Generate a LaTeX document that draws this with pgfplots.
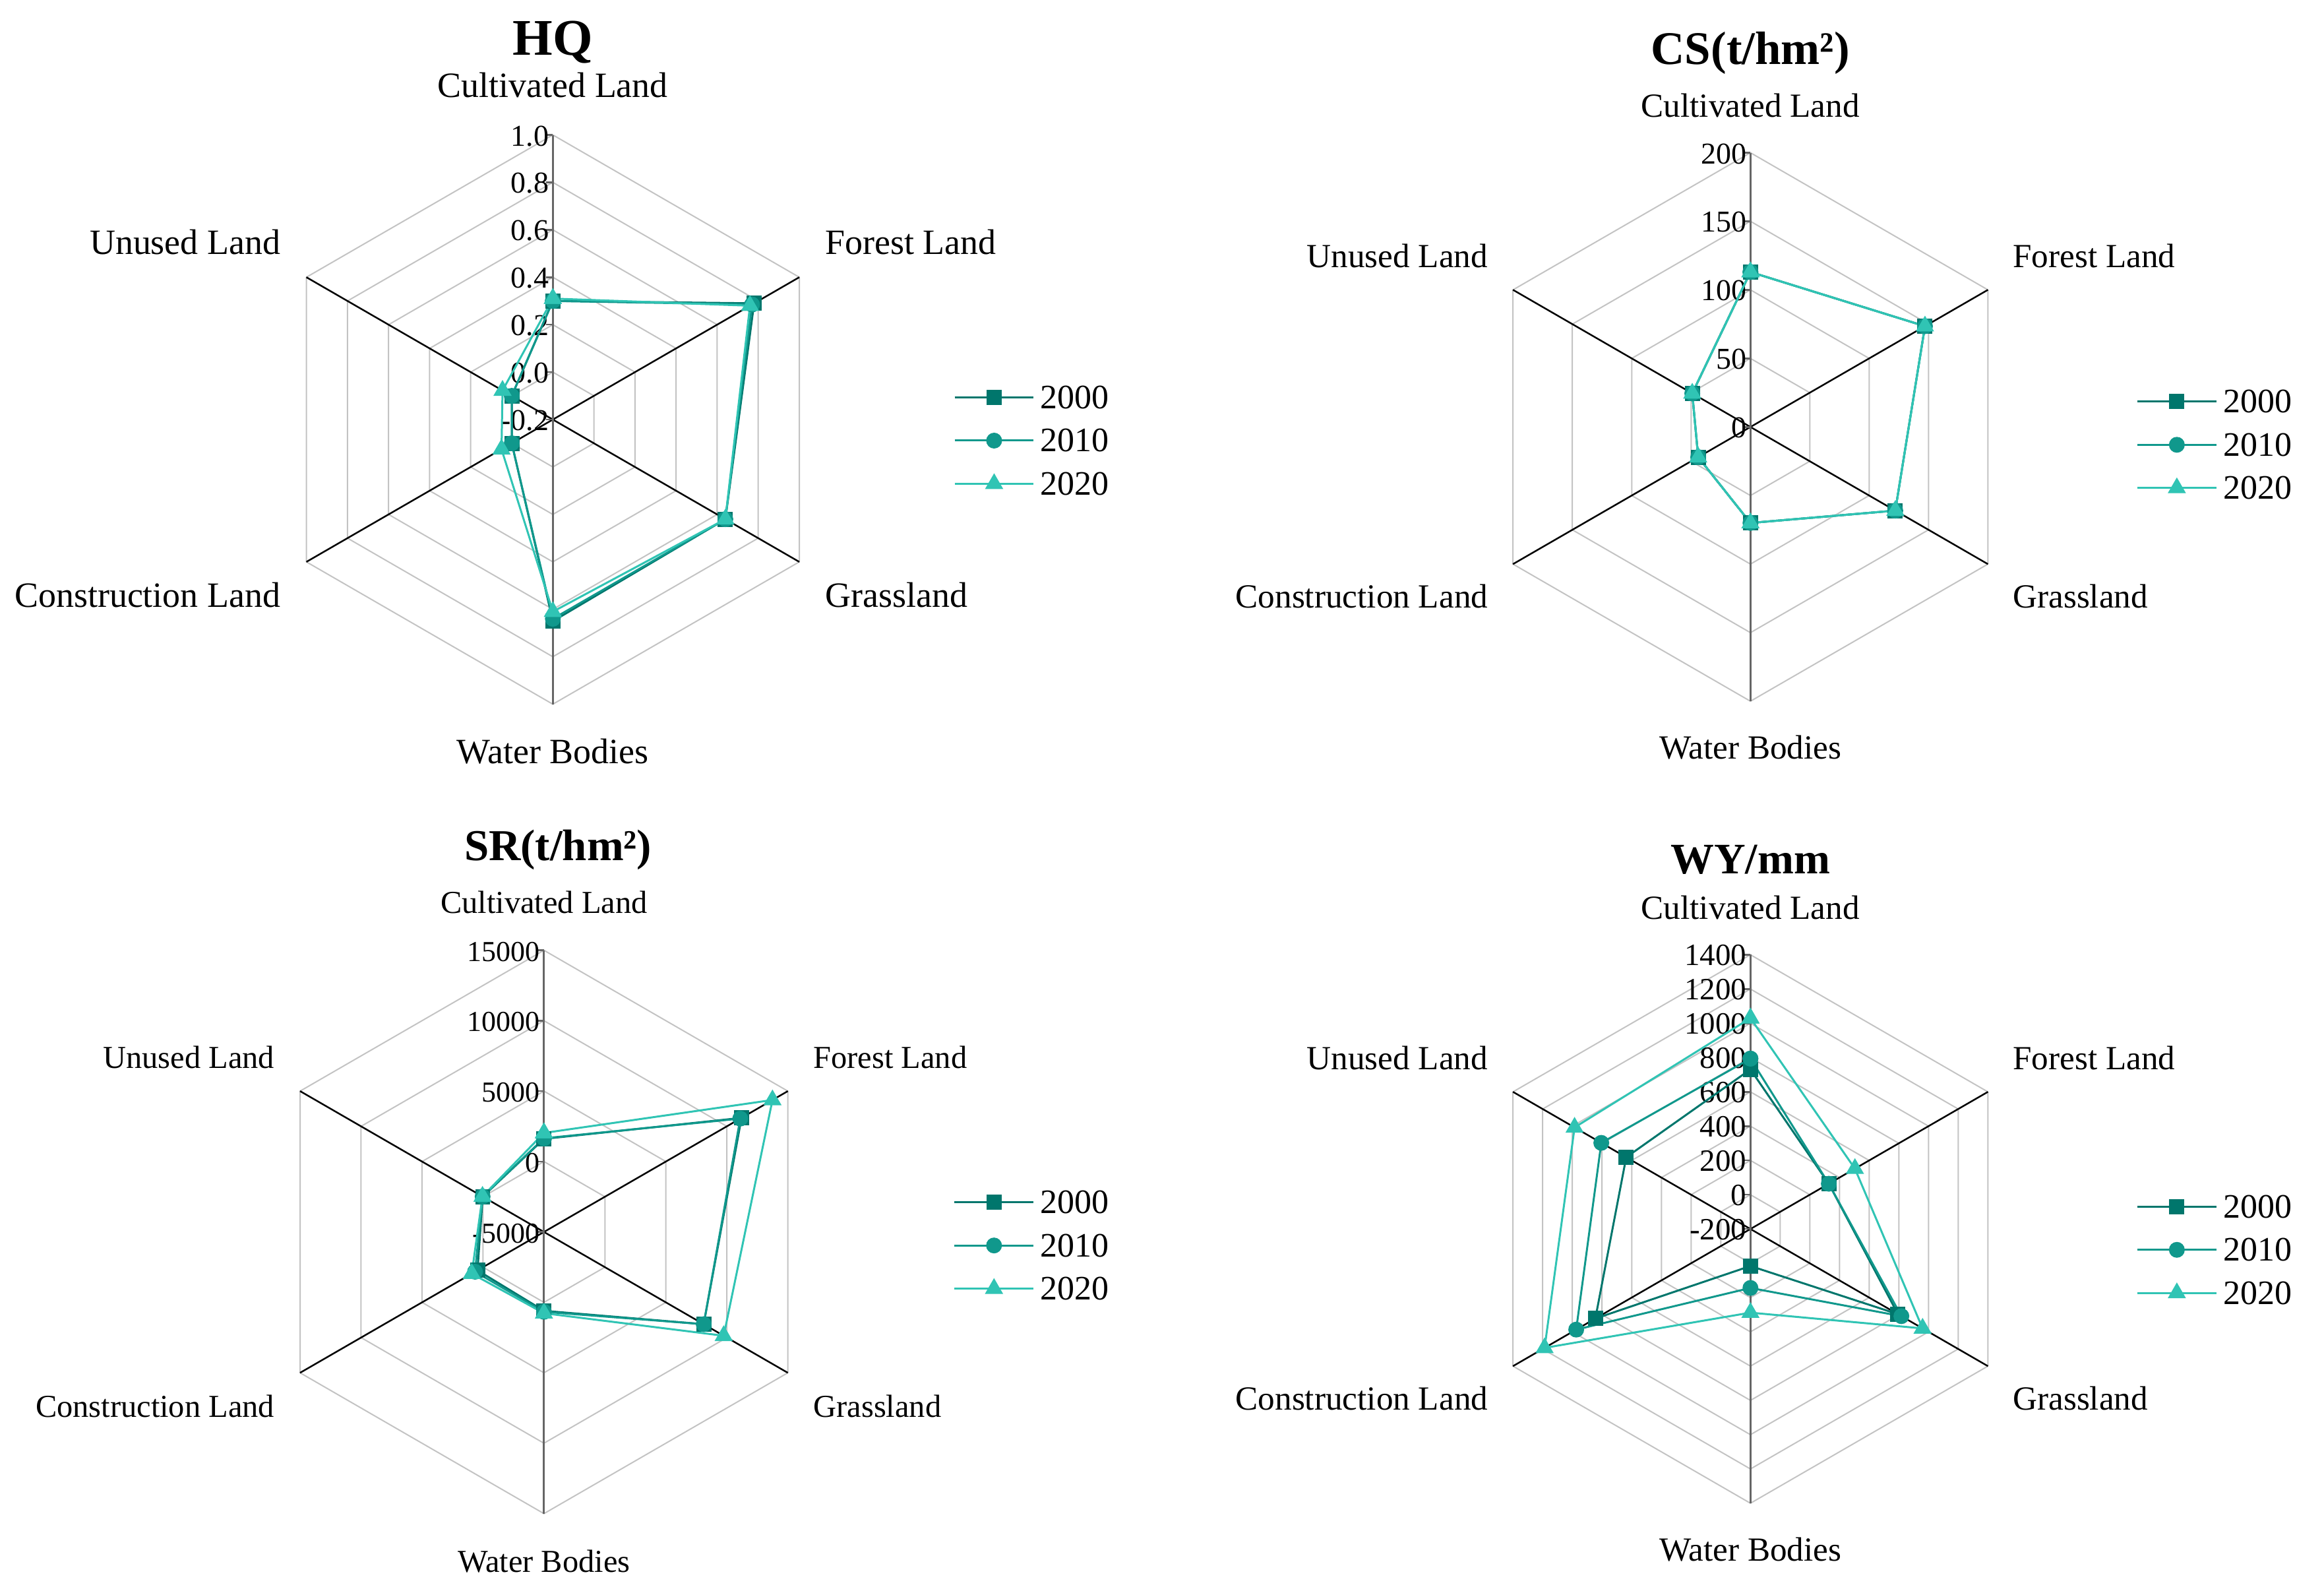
\documentclass[border=0pt]{standalone}
\usepackage{fontspec}
\setmainfont{Liberation Serif}
\usepackage{pgfplots}
\usepackage{pgfplotstable}
\pgfplotsset{compat=1.18}

\definecolor{cA}{RGB}{0,118,108}
\definecolor{cB}{RGB}{16,152,140}
\definecolor{cC}{RGB}{48,196,180}
\definecolor{gridc}{RGB}{195,195,195}

% angle, 2000, 2010, 2020 (first row repeated to close the polygon)
\pgfplotstableread{
ang a b c
90   0.30  0.30  0.31
30   0.78  0.77  0.76
-30  0.64  0.64  0.64
-90  0.65  0.64  0.61
-150 0.00  0.00  0.05
150  0.00  0.00  0.045
90   0.30  0.30  0.31
}\hqdata

\pgfplotstableread{
ang a b c
90   113 113 113
30   147 147 147
-30  122 122 122
-90  70  70  70
-150 44  44  44
150  49  49  49
90   113 113 113
}\csdata

\pgfplotstableread{
ang a b c
90   1610  1650  2030
30   11200 11100 13740
-30  8100  8100  9740
-90  600   670   770
-150 450   650   920
150  20    30    40
90   1610  1650  2030
}\srdata

\pgfplotstableread{
ang a b c
90   731 794 1030
30   328 328 504
-30  794 817 960
-90  16  144 288
-150 845 974 1187
150  637 805 985
90   731 794 1030
}\wydata

\def\catfs{10.8}\def\tickfs{9.2}\def\titlefs{15.6}
\tikzset{
  catfont/.style={font=\fontsize{\catfs}{13}\selectfont, inner sep=0pt, text height=0.66em, text depth=0pt},
  tickfont/.style={font=\fontsize{\tickfs}{11}\selectfont, inner sep=0pt, text height=0.66em, text depth=0pt},
  titlefont/.style={font=\bfseries\fontsize{\titlefs}{18}\selectfont, inner sep=0pt, text height=0.66em, text depth=0pt},
}

\newcommand{\radargrid}[1]{%
  \pgfplotsinvokeforeach{1,...,#1}{%
    \draw[gridc, line width=0.4pt] (axis cs:0,##1/#1) -- (axis cs:0.8660*##1/#1,0.5*##1/#1) -- (axis cs:0.8660*##1/#1,-0.5*##1/#1) -- (axis cs:0,-##1/#1) -- (axis cs:-0.8660*##1/#1,-0.5*##1/#1) -- (axis cs:-0.8660*##1/#1,0.5*##1/#1) -- cycle;
  }%
  \draw[black, line width=0.5pt] (axis cs:-0.8660,0.5) -- (axis cs:0.8660,-0.5);
  \draw[black, line width=0.5pt] (axis cs:-0.8660,-0.5) -- (axis cs:0.8660,0.5);
  \draw[black!60, line width=0.6pt] (axis cs:0,1) -- (axis cs:0,-1);
}

\newcommand{\tk}[2]{%
  \draw[black!60, line width=0.5pt] (axis cs:-0.025,#1) -- (axis cs:0,#1);
  \node[tickfont, anchor=east] at (axis cs:-0.012,#1) {#2};
}

\newcommand{\cats}{%
  \node[catfont, anchor=center] at (axis cs:0,1.17) {Cultivated Land};
  \node[catfont, anchor=west] at (axis cs:0.955,0.62) {Forest Land};
  \node[catfont, anchor=west] at (axis cs:0.955,-0.62) {Grassland};
  \node[catfont, anchor=center] at (axis cs:0,-1.17) {Water Bodies};
  \node[catfont, anchor=east] at (axis cs:-0.955,-0.62) {Construction Land};
  \node[catfont, anchor=east] at (axis cs:-0.955,0.62) {Unused Land};
}

% #1 table, #2 column, #3 minimum, #4 range, #5 style
\newcommand{\radarplot}[5]{%
  \addplot[#5] table[x expr={((\thisrow{#2})-(#3))/(#4)*cos(\thisrow{ang})},
                     y expr={((\thisrow{#2})-(#3))/(#4)*sin(\thisrow{ang})}] {#1};
}

\pgfplotsset{
  radar/.style={
    hide axis, clip=false, scale only axis,
    xmin=-1, xmax=1, ymin=-1, ymax=1,
    anchor=center,
    legend cell align=left,
    legend image code/.code={%
      \draw[mark repeat=2,mark phase=2,##1] plot coordinates {(0pt,0pt) (12pt,0pt) (24pt,0pt)};},
    legend style={draw=none, fill=none, anchor=west, inner sep=0pt,
      row sep=4.7pt, column sep=1pt,
      font=\fontsize{10.4}{12}\selectfont,
      nodes={inner sep=0.8pt, text height=0.68em, text depth=0pt}},
  },
  sA/.style={cA, line width=0.6pt, mark=square*, mark size=2pt, mark options={solid, fill=cA}},
  sB/.style={cB, line width=0.6pt, mark=*, mark size=2.1pt, mark options={solid, fill=cB}},
  sC/.style={cC, line width=0.6pt, mark=triangle*, mark size=2.6pt, mark options={solid, fill=cC}},
}

\begin{document}
\begin{tikzpicture}
\path[use as bounding box] (0pt,0pt) rectangle (705.6pt,-482.85pt);

% ---------------- HQ ----------------
\def\catfs{10.8}\def\tickfs{9.2}\def\titlefs{15.6}
\begin{axis}[radar, at={(167.85pt,-127.35pt)}, width=172.8pt, height=172.8pt,
  legend style={at={(1.203,0.463)}}]
  \radargrid{6}
  \tk{0}{-0.2}\tk{1/6}{0.0}\tk{2/6}{0.2}\tk{3/6}{0.4}\tk{4/6}{0.6}\tk{5/6}{0.8}\tk{1}{1.0}
  \cats
  \node[titlefont] at (axis cs:0,1.318) {HQ};
  \radarplot{\hqdata}{a}{-0.2}{1.2}{sA}
  \radarplot{\hqdata}{b}{-0.2}{1.2}{sB}
  \radarplot{\hqdata}{c}{-0.2}{1.2}{sC}
  \legend{2000,2010,2020}
\end{axis}

% ---------------- CS ----------------
\def\catfs{10.25}\def\tickfs{9.2}\def\titlefs{14.2}
\begin{axis}[radar, at={(531.45pt,-129.6pt)}, width=166.5pt, height=166.5pt,
  legend style={at={(1.2025,0.4675)}}]
  \radargrid{4}
  \tk{0}{0}\tk{1/4}{50}\tk{2/4}{100}\tk{3/4}{150}\tk{1}{200}
  \cats
  \node[titlefont] at (axis cs:0,1.362) {CS(t/hm²)};
  \radarplot{\csdata}{a}{0}{200}{sA}
  \radarplot{\csdata}{b}{0}{200}{sB}
  \radarplot{\csdata}{c}{0}{200}{sC}
  \legend{2000,2010,2020}
\end{axis}

% ---------------- SR ----------------
\def\catfs{9.7}\def\tickfs{8.8}\def\titlefs{13.4}
\begin{axis}[radar, at={(165.15pt,-373.95pt)}, width=171pt, height=171pt,
  legend style={at={(1.226,0.476)}}]
  \radargrid{4}
  \tk{0}{-5000}\tk{1/4}{0}\tk{2/4}{5000}\tk{3/4}{10000}\tk{1}{15000}
  \cats
  \node[titlefont] at (axis cs:0.05,1.358) {SR(t/hm²)};
  \radarplot{\srdata}{a}{-5000}{20000}{sA}
  \radarplot{\srdata}{b}{-5000}{20000}{sB}
  \radarplot{\srdata}{c}{-5000}{20000}{sC}
  \legend{2000,2010,2020}
\end{axis}

% ---------------- WY ----------------
\def\catfs{10.25}\def\tickfs{9.4}\def\titlefs{13.2}
\begin{axis}[radar, at={(531.45pt,-373.05pt)}, width=166.5pt, height=166.5pt,
  legend style={at={(1.2025,0.462)}}]
  \radargrid{8}
  \tk{0}{-200}\tk{1/8}{0}\tk{2/8}{200}\tk{3/8}{400}\tk{4/8}{600}\tk{5/8}{800}\tk{6/8}{1000}\tk{7/8}{1200}\tk{1}{1400}
  \cats
  \node[titlefont] at (axis cs:0,1.335) {WY/mm};
  \radarplot{\wydata}{a}{-200}{1600}{sA}
  \radarplot{\wydata}{b}{-200}{1600}{sB}
  \radarplot{\wydata}{c}{-200}{1600}{sC}
  \legend{2000,2010,2020}
\end{axis}
\end{tikzpicture}
\end{document}
